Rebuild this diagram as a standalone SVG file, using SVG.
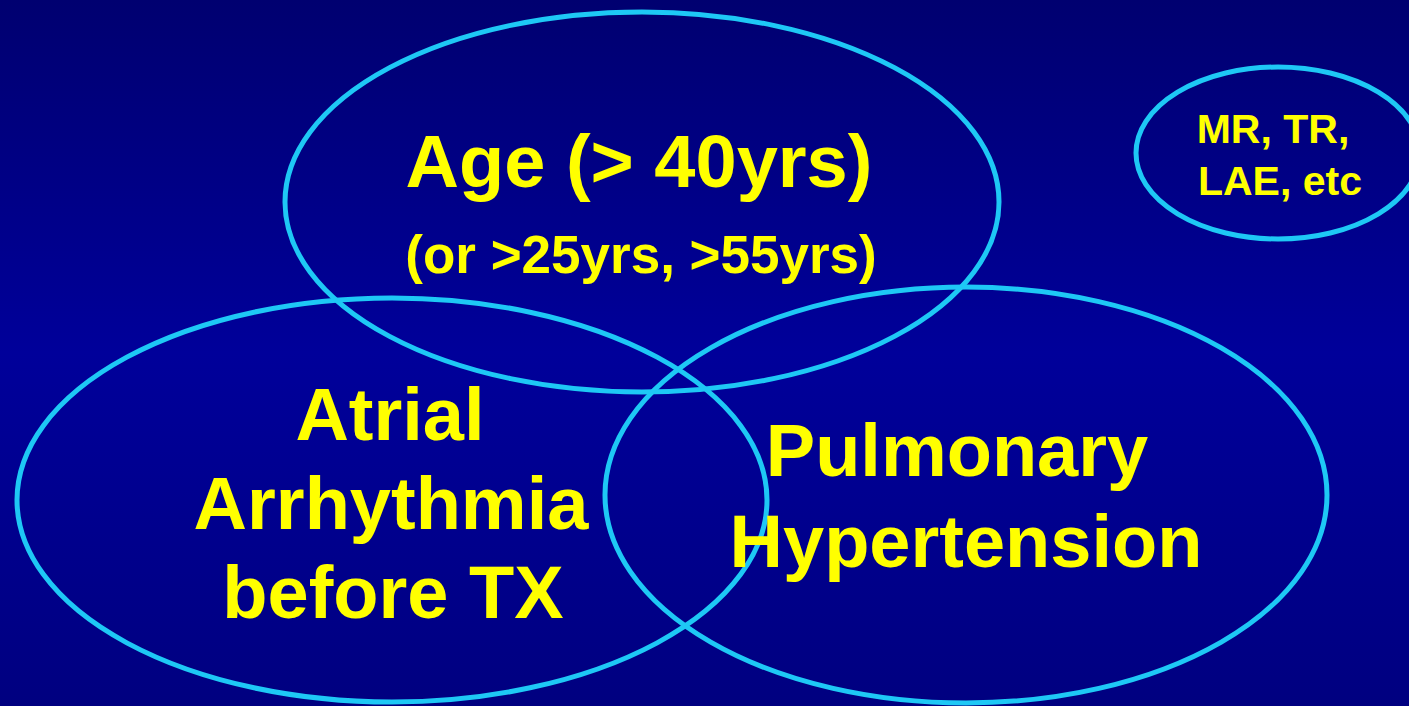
<svg xmlns="http://www.w3.org/2000/svg" width="1409" height="706" viewBox="0 0 1409 706">
<defs>
<linearGradient id="bg" x1="0" y1="0" x2="0" y2="1">
<stop offset="0" stop-color="#000070"/>
<stop offset="0.5" stop-color="#00009A"/>
<stop offset="1" stop-color="#000080"/>
</linearGradient>
<style>
.ring{fill:none;stroke:#1EC8F5;stroke-width:5}
.t{font-family:"Liberation Sans",Arial,sans-serif;font-weight:bold;fill:#FFFF00;text-anchor:middle}
</style>
</defs>
<rect width="1409" height="706" fill="url(#bg)"/>
<g id="connectors"></g>
<g id="ellipses">
<ellipse id="e-age" class="ring" cx="642" cy="202" rx="357" ry="190"/>
<ellipse id="e-atrial" class="ring" cx="392" cy="500" rx="375" ry="202"/>
<ellipse id="e-pulm" class="ring" cx="966" cy="495" rx="361" ry="208"/>
<ellipse id="e-mr" class="ring" cx="1278" cy="153" rx="142" ry="86"/>
</g>
<g id="node-age">
<text class="t" x="639" y="187" font-size="74">Age (&gt; 40yrs)</text>
<text class="t" x="641" y="273" font-size="53">(or &gt;25yrs, &gt;55yrs)</text>
</g>
<g id="node-atrial">
<text class="t" x="390" y="440" font-size="74">Atrial</text>
<text class="t" x="391" y="529" font-size="74">Arrhythmia</text>
<text class="t" x="393" y="618" font-size="74">before TX</text>
</g>
<g id="node-pulm">
<text class="t" x="957" y="476" font-size="74">Pulmonary</text>
<text class="t" x="966" y="567" font-size="74">Hypertension</text>
</g>
<g id="node-mr">
<text class="t" x="1273" y="143" font-size="41">MR, TR,</text>
<text class="t" x="1280" y="195" font-size="41">LAE, etc</text>
</g>
</svg>
